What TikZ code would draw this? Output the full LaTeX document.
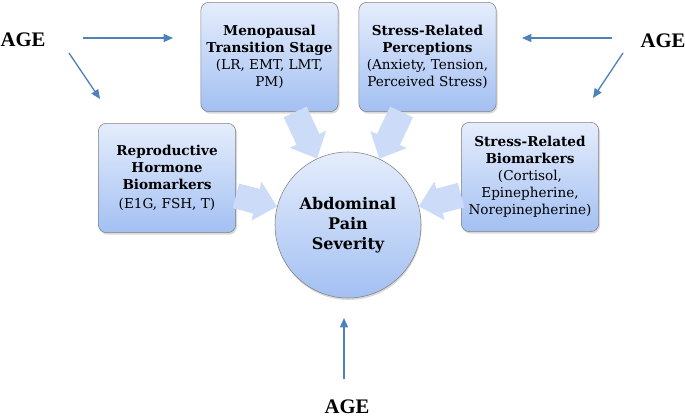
\documentclass[tikz,border=0pt]{standalone}
\usepackage{fontspec}
\setmainfont{DejaVu Serif}
\newfontfamily\agefont{Liberation Serif}
\usepackage{tikz}
\usetikzlibrary{arrows.meta, shadows}
\definecolor{boxtop}{RGB}{229,237,252}
\definecolor{boxbot}{RGB}{163,192,242}
\definecolor{fatblue}{RGB}{204,219,247}
\definecolor{ageblue}{RGB}{79,129,189}

\begin{document}
\begin{tikzpicture}[x=0.75pt, y=-0.75pt,
  factor/.style={draw=gray, rounded corners=6pt, top color=boxtop, bottom color=boxbot,
    minimum width=103pt, minimum height=82pt, inner sep=1pt, align=center,
    font=\fontsize{10.2}{12.7}\selectfont,
    drop shadow={opacity=0.3, shadow xshift=1pt, shadow yshift=-1.5pt}},
  outcome/.style={circle, draw=gray, top color=boxtop, bottom color=boxbot,
    minimum size=109.5pt, inner sep=0pt, align=center,
    font=\fontsize{12}{15}\selectfont\bfseries,
    drop shadow={opacity=0.3, shadow xshift=0.5pt, shadow yshift=-1.5pt}},
  age/.style={inner sep=1pt, font=\agefont\fontsize{15.5}{18}\selectfont\bfseries},
  fat/.style={draw=fatblue, line width=19pt, -{Triangle[length=16pt, width=29pt]}},
  agearrow/.style={draw=ageblue, line width=1pt, -{Triangle[length=7pt, width=6pt]}}]
  \useasboundingbox (0,0) rectangle (685,420);
  % factors and outcome
  \node[factor] (meno) at (269.5,57) {\textbf{Menopausal}\\\textbf{Transition Stage}\\(LR, EMT, LMT,\\PM)};
  \node[factor] (percep) at (427.5,57) {\textbf{Stress-Related}\\\textbf{Perceptions}\\(Anxiety, Tension,\\Perceived Stress)};
  \node[factor] (repro) at (167,178) {\textbf{Reproductive}\\\textbf{Hormone}\\\textbf{Biomarkers}\\[2pt](E1G, FSH, T)};
  \node[factor] (biom) at (530,177) {\textbf{Stress-Related}\\\textbf{Biomarkers}\\(Cortisol,\\Epinepherine,\\Norepinepherine)};
  \node[outcome] (pain) at (348,225) {Abdominal\\Pain\\Severity};
  \draw[fat] (meno) -- (pain);
  \draw[fat] (percep) -- (pain);
  \draw[fat] (repro) -- (pain);
  \draw[fat] (biom) -- (pain);
  % age
  \node[age] (ageL) at (23,40) {AGE};
  \node[age] (ageR) at (663,41) {AGE};
  \node[age] (ageB) at (347,407) {AGE};
  \coordinate (l1) at (83,38);
  \coordinate (l2) at (173,38);
  \coordinate (l3) at (69,53);
  \coordinate (l4) at (100,99);
  \coordinate (r1) at (612,38);
  \coordinate (r2) at (522,38);
  \coordinate (r3) at (623,53);
  \coordinate (r4) at (593,98);
  \coordinate (b1) at (344,379);
  \coordinate (b2) at (344,318);
  \draw[agearrow] (l1) -- (l2);
  \draw[agearrow] (l3) -- (l4);
  \draw[agearrow] (r1) -- (r2);
  \draw[agearrow] (r3) -- (r4);
  \draw[agearrow] (b1) -- (b2);
\end{tikzpicture}
\end{document}
